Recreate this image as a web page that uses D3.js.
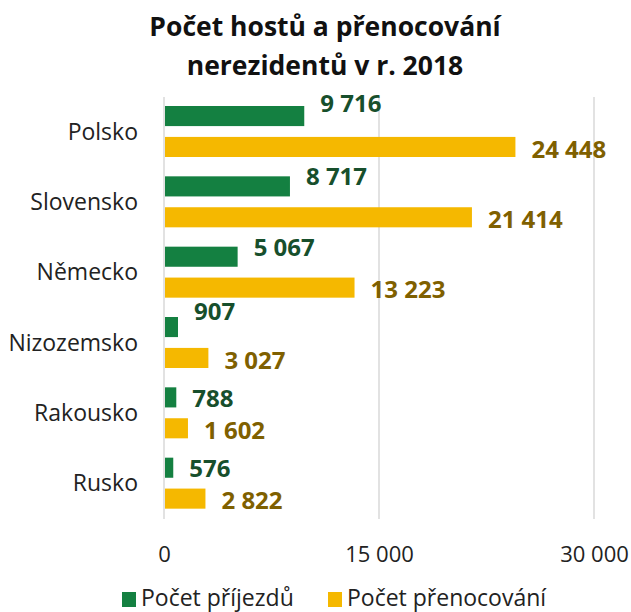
<!DOCTYPE html>
<html>
<head>
<meta charset="utf-8">
<script src="https://cdn.jsdelivr.net/npm/d3@7"></script>
<style>
  body { margin: 0; background: #fff; }
  text { font-family: "Open Sans", "Noto Sans", sans-serif; }
</style>
</head>
<body>
<script>
const WIDTH = 631;
const HEIGHT = 612;

const countries = ['Polsko', 'Slovensko', 'Německo', 'Nizozemsko', 'Rakousko', 'Rusko'];
const arrivals = [9716, 8717, 5067, 907, 788, 576];
const overnights = [24448, 21414, 13223, 3027, 1602, 2822];
const xTicks = [0, 15000, 30000];
const seriesNames = ['Počet příjezdů', 'Počet přenocování'];
const titleLines = ['Počet hostů a přenocování', 'nerezidentů v r. 2018'];

const COLORS = ['#148041', '#f5b800'];
const LABEL_COLORS = ['#174f2c', '#7f6000'];
// labels of the arrivals series were nudged by hand in the original
const ARRIVAL_LABEL_NUDGE = [-13, -10, -9.5, -16, 1, 1];

var cz = d3.formatLocale({decimal: ',', thousands: ' ', grouping: [3], currency: ['', ' Kč']});
var fmt = cz.format(',d');

var svg = d3.select('body')
	.append('svg')
	.attr('width', WIDTH)
	.attr('height', HEIGHT);

// title
svg.append('g')
	.selectAll('text')
	.data(titleLines)
	.enter()
	.append('text')
	.attr('x', 325)
	.attr('y', function(d, i){ return 36 + i*39; })
	.attr('text-anchor', 'middle')
	.attr('font-size', 26.5)
	.attr('font-weight', 'bold')
	.attr('fill', '#111')
	.text(function(d){ return d; });

var xScale = d3.scaleLinear().domain([0, 30000]).range([164, 594]);
var yScale = d3.scaleBand().domain(countries).range([97, 519]);
var inner = d3.scaleBand().domain([0, 1]).range([9, 60]).paddingInner(0.35);

// gridlines
svg.append('g')
	.selectAll('line')
	.data(xTicks)
	.enter()
	.append('line')
	.attr('x1', function(d){ return xScale(d); })
	.attr('x2', function(d){ return xScale(d); })
	.attr('y1', 97)
	.attr('y2', 519)
	.attr('stroke', '#d9d9d9')
	.attr('stroke-width', 1.5);

// x axis labels
var xAxis = d3.axisBottom(xScale).tickValues(xTicks).tickFormat(fmt).tickSize(0).tickPadding(0);
var gx = svg.append('g')
	.attr('transform', 'translate(0,546)')
	.call(xAxis);
gx.select('.domain').remove();
gx.selectAll('text')
	.attr('font-family', '"Open Sans", sans-serif')
	.attr('font-size', 22)
	.attr('fill', '#222');

// category axis
var yAxis = d3.axisLeft(yScale).tickSize(0).tickPadding(0);
var gy = svg.append('g')
	.attr('transform', 'translate(138,0)')
	.call(yAxis);
gy.select('.domain').remove();
gy.selectAll('text')
	.attr('font-family', '"Open Sans", sans-serif')
	.attr('font-size', 23)
	.attr('fill', '#222');

var rows = countries.map(function(c, i){
	return {country: c, values: [arrivals[i], overnights[i]]};
});

var groups = svg.append('g')
	.selectAll('g')
	.data(rows)
	.enter()
	.append('g')
	.attr('transform', function(d){ return 'translate(0,' + yScale(d.country) + ')'; });

var bars = groups.selectAll('g.bar')
	.data(function(d, i){ return d.values.map(function(v, k){ return {v: v, k: k, row: i}; }); })
	.enter()
	.append('g')
	.attr('class', 'bar');

bars.append('rect')
	.attr('x', xScale(0) + 1)
	.attr('y', function(d){ return inner(d.k); })
	.attr('width', function(d){ return xScale(d.v) - xScale(0); })
	.attr('height', inner.bandwidth())
	.attr('fill', function(d){ return COLORS[d.k]; });

bars.append('text')
	.attr('x', function(d){ return xScale(d.v) + 17; })
	.attr('y', function(d){ return inner(d.k) + inner.bandwidth()/2 + (d.k === 0 ? ARRIVAL_LABEL_NUDGE[d.row] : 2); })
	.attr('dy', '0.36em')
	.attr('font-size', 24)
	.attr('font-weight', 'bold')
	.attr('fill', function(d){ return LABEL_COLORS[d.k]; })
	.text(function(d){ return fmt(d.v); });

// legend
var legend = svg.append('g')
	.selectAll('g')
	.data(seriesNames)
	.enter()
	.append('g')
	.attr('transform', function(d, i){ return 'translate(' + (i === 0 ? 122 : 328) + ',592)'; });

legend.append('rect')
	.attr('width', 14)
	.attr('height', 15)
	.attr('fill', function(d, i){ return COLORS[i]; });

legend.append('text')
	.attr('x', 19)
	.attr('y', 14)
	.attr('font-size', 23)
	.attr('fill', '#222')
	.text(function(d){ return d; });
</script>
</body>
</html>
